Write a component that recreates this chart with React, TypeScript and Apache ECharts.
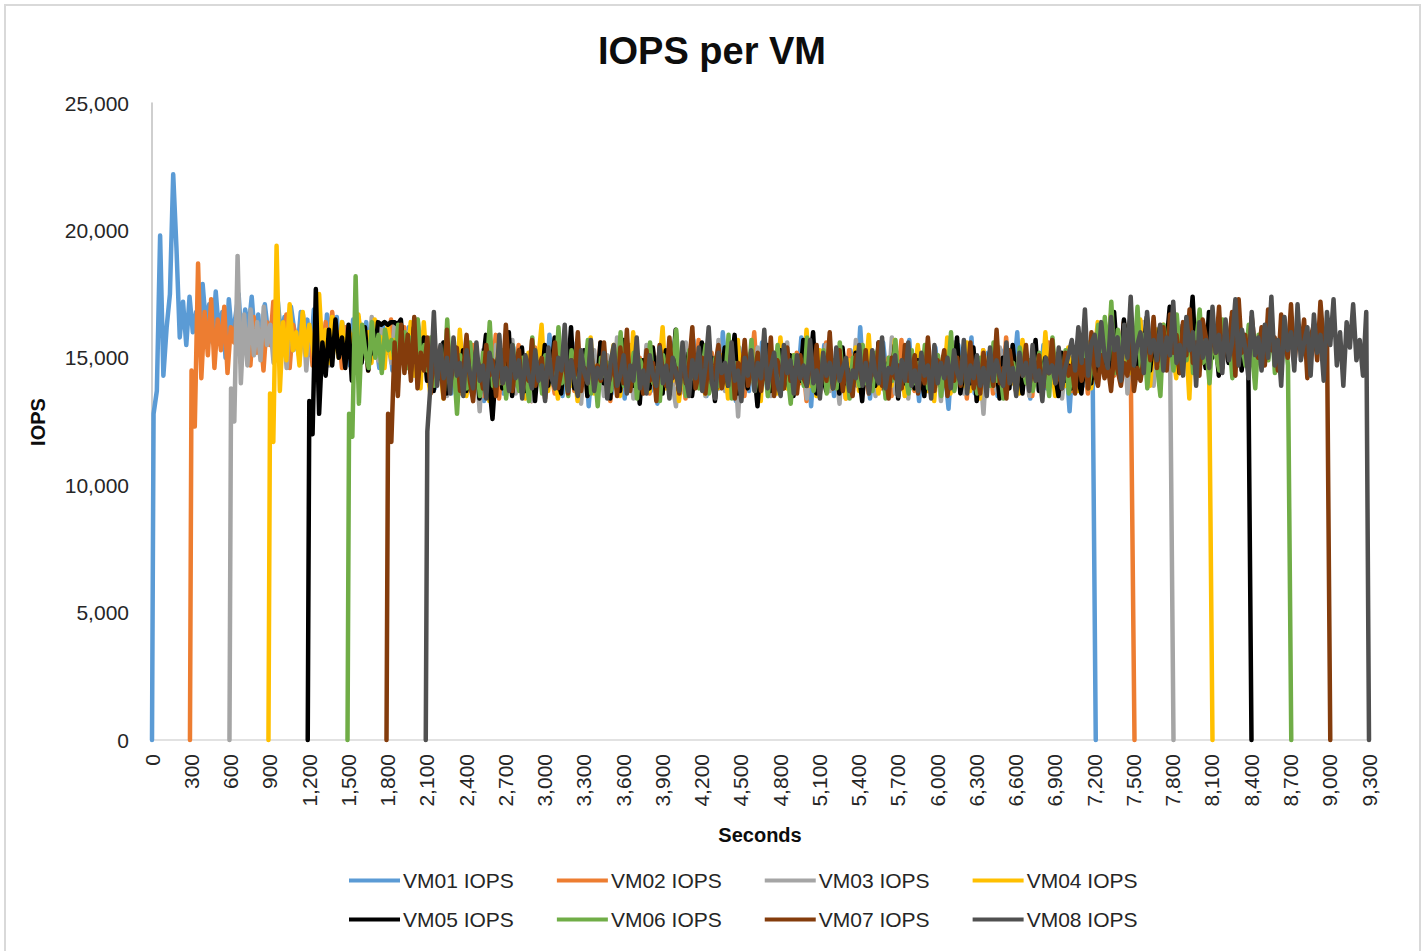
import React, { useEffect, useRef } from "react";
import * as echarts from "echarts";

const SERIES_NAMES = ["VM01 IOPS", "VM02 IOPS", "VM03 IOPS", "VM04 IOPS", "VM05 IOPS", "VM06 IOPS", "VM07 IOPS", "VM08 IOPS"];
const COLORS = ["#5B9BD5", "#ED7D31", "#A5A5A5", "#FFC000", "#000000", "#70AD47", "#843C0C", "#505050"];

// seconds at which each VM starts / stops (IOPS = 0)
const START = [0, 290, 592, 890, 1190, 1494, 1792, 2092];
const END = [7212, 7508, 7806, 8104, 8402, 8706, 9004, 9300];
// samples every STEP seconds, first sample OFFSET seconds after start
const STEP = 25;
const OFFSET = 12;
// sample values below are in hundreds of IOPS
const UNIT = 100;

const X_MAX = 9300;
const X_INTERVAL = 300;
const Y_MAX = 25000;
const Y_INTERVAL = 5000;

const VM01 = [
  128,137,198,143,162,175,222,193,158,172,155,174,160,168,152,179,
  163,171,156,176,160,168,150,173,158,166,175,154,169,161,174,157,
  167,152,171,160,164,149,172,158,166,155,170,161,153,168,159,165,
  151,169,157,163,148,167,160,154,166,150,162,158,147,165,155,161,
  152,164,149,160,156,146,163,153,159,145,161,150,157,148,162,154,
  158,147,155,150,143,151,138,147,155,140,149,136,152,144,139,150,
  146,137,153,142,148,133,150,145,140,157,143,136,149,141,154,138,
  145,151,139,147,134,153,142,146,137,159,144,140,150,135,148,143,
  156,138,145,141,152,131,147,144,139,155,142,148,136,151,140,146,
  134,149,143,158,138,145,141,153,137,147,132,150,144,139,154,142,
  148,136,151,140,145,157,139,146,143,135,152,141,149,138,160,144,
  140,147,133,154,142,146,137,151,145,139,156,143,135,149,141,153,
  138,145,150,136,148,142,158,140,146,131,152,144,139,155,143,147,
  135,151,141,148,137,153,145,139,162,142,147,134,150,143,138,156,
  144,140,149,136,152,145,141,157,138,146,133,151,142,148,140,154,
  139,147,143,130,150,141,155,137,146,142,158,136,148,144,139,152,
  141,148,135,153,143,139,150,145,160,137,147,142,134,151,146,140,
  155,138,149,144,136,152,143,147,129,150,141,146,157,139,148,152,
];
const VM02 = [
  145,123,187,142,168,151,173,146,165,153,170,144,162,156,169,148,
  163,159,147,166,152,161,145,164,155,172,149,160,154,167,146,163,
  158,150,167,153,162,147,165,156,151,164,149,168,155,160,146,162,
  153,159,148,166,154,157,145,163,151,160,147,158,152,165,149,156,
  150,162,146,157,153,148,160,151,155,144,158,149,142,151,137,149,
  143,153,136,150,144,138,155,141,147,135,152,140,146,159,134,148,
  142,151,139,145,155,137,149,143,133,154,141,147,138,150,144,136,
  153,142,148,140,158,137,146,142,151,135,149,144,139,156,141,147,
  133,152,143,140,149,137,155,145,138,150,142,147,136,154,141,146,
  139,151,144,137,153,142,148,134,150,145,140,157,138,146,143,152,
  136,149,141,147,138,155,143,139,151,135,148,144,160,140,146,142,
  150,137,145,141,154,139,148,143,136,152,140,147,133,151,144,138,
  149,142,156,137,146,140,151,145,134,153,141,148,139,155,143,136,
  147,141,152,138,145,150,135,148,142,157,139,146,143,137,154,140,
  148,143,136,151,141,146,139,155,144,137,150,142,147,134,152,140,
  145,138,153,142,148,136,150,143,139,158,141,146,137,152,144,140,
  149,135,151,142,146,139,156,143,138,150,145,141,153,137,148,144,
  140,147,136,152,149,161,145,157,150,166,143,159,153,164,147,158,
];
const VM03 = [
  138,125,190,140,167,147,169,151,164,149,170,155,163,148,168,154,
  161,146,166,153,158,150,167,145,162,156,149,165,152,160,147,163,
  157,151,164,148,159,153,145,162,150,158,147,166,154,149,161,152,
  156,148,163,151,157,146,160,153,149,165,155,150,141,154,137,148,
  143,156,135,149,142,138,152,144,136,150,141,147,129,153,140,146,
  134,155,143,139,148,142,157,136,145,138,151,144,133,149,141,154,
  137,146,140,152,136,148,143,139,156,142,147,132,150,144,138,153,
  141,147,135,151,143,139,158,137,146,142,152,134,149,145,140,155,
  138,144,150,136,148,141,153,139,131,147,143,156,137,145,149,140,
  152,135,146,142,139,157,144,137,150,141,148,127,151,143,138,146,
  140,154,137,149,144,135,152,142,147,139,156,136,145,150,141,148,
  134,151,143,138,147,141,155,137,149,144,132,152,140,146,139,157,
  143,137,150,142,147,135,153,140,145,139,158,136,148,141,146,134,
  151,140,144,149,137,155,142,138,147,133,150,143,139,156,141,146,
  136,148,142,153,139,145,128,150,141,147,137,154,143,139,149,144,
  138,152,140,146,135,151,143,148,137,157,141,145,139,150,134,147,
  142,149,137,155,144,140,152,146,154,162,147,158,143,165,151,157,
  148,163,136,156,160,150,145,164,152,158,139,161,149,155,146,157,
];
const VM04 = [
  136,117,194,137,164,149,171,153,160,147,168,151,163,155,146,175,
  152,161,148,166,157,150,164,149,162,154,145,167,156,151,160,148,
  165,153,158,146,163,150,157,144,161,152,148,164,143,155,138,164,
  145,136,152,141,148,134,156,142,147,137,161,144,135,149,142,150,
  138,146,154,133,145,141,157,139,148,143,136,151,140,147,134,152,
  144,138,149,163,141,137,150,143,134,148,142,155,139,146,133,151,
  144,140,158,136,147,141,153,138,146,155,142,135,149,143,139,160,
  142,135,149,144,137,152,140,146,162,138,147,141,154,133,145,150,
  139,153,141,148,143,136,156,140,145,138,151,147,134,150,142,157,
  137,146,141,152,139,148,133,155,144,140,149,136,158,143,138,147,
  151,137,145,142,161,139,147,135,153,144,140,156,138,146,143,150,
  134,149,141,154,137,146,143,159,139,148,136,152,142,145,139,157,
  140,147,135,152,143,138,155,141,149,137,146,133,151,144,140,158,
  136,145,142,150,139,156,137,148,144,134,153,141,147,139,155,143,
  146,138,151,140,145,136,157,142,148,137,152,144,139,160,141,147,
  135,150,143,139,154,141,148,137,146,142,156,138,150,164,147,157,
  151,167,145,159,153,148,162,144,156,150,165,147,158,139,154,161,
  149,163,146,155,152,142,160,148,157,134,162,151,145,158,150,153,
];
const VM05 = [
  133,120,177,128,156,143,161,147,165,150,158,146,163,141,160,152,
  148,162,145,157,151,164,163,164,163,164,164,163,165,149,159,144,
  162,151,146,158,141,155,137,149,142,156,136,148,145,150,139,153,
  137,148,141,153,134,147,159,140,126,145,152,138,146,160,135,149,
  142,154,137,144,151,133,148,140,155,139,146,158,141,136,150,143,
  162,138,147,142,153,135,149,144,139,156,140,148,134,152,145,137,
  157,141,146,139,150,132,149,143,138,154,142,147,136,153,140,145,
  161,137,148,142,152,135,146,141,156,138,144,150,133,147,143,154,
  139,146,159,136,143,149,138,152,145,131,148,142,155,137,146,140,
  153,138,144,151,135,147,141,157,139,146,160,136,148,143,137,150,
  143,149,136,154,140,145,138,152,144,133,150,141,147,139,156,142,
  137,148,142,155,134,146,140,153,145,138,149,143,135,152,141,147,
  146,139,151,137,147,142,158,136,144,150,140,154,133,148,143,139,
  152,141,147,134,150,143,138,155,142,146,136,151,144,140,157,137,
  145,150,139,148,143,135,152,141,147,138,154,142,136,149,144,140,
  151,144,163,148,157,142,168,150,146,165,153,149,160,144,158,151,
  166,145,157,152,162,147,155,170,150,159,144,163,152,157,174,149,
  161,153,146,168,150,158,143,162,155,148,166,151,159,145,156,152,
];
const VM06 = [
  128,119,182,132,163,152,146,164,150,159,144,161,153,157,148,163,
  151,160,146,158,150,165,147,155,145,158,139,147,153,137,165,142,
  148,128,151,144,138,156,141,149,135,152,143,164,139,146,140,153,
  134,147,155,142,137,150,144,133,158,141,148,136,151,143,149,138,
  162,140,145,135,153,142,139,148,144,157,136,146,131,150,143,148,
  137,154,141,160,139,147,142,152,134,149,145,138,156,140,146,133,
  151,143,137,148,161,141,145,135,153,142,149,138,146,155,136,143,
  150,139,147,142,159,134,148,144,138,152,141,157,137,146,143,150,
  135,149,141,155,138,147,144,132,151,140,146,139,158,143,137,148,
  142,153,136,145,149,138,156,141,147,134,150,144,139,155,140,146,
  137,152,143,148,134,150,141,157,139,146,144,136,153,140,148,142,
  155,138,146,141,151,135,149,143,160,137,145,140,152,139,147,144,
  136,150,142,147,139,156,141,145,134,151,143,148,138,154,146,140,
  149,137,144,152,140,146,135,158,142,147,139,153,136,145,141,150,
  143,156,138,147,151,163,145,166,149,172,144,161,153,158,148,164,
  150,170,146,159,138,155,162,147,135,163,152,158,145,167,151,156,
  149,162,144,157,169,148,154,140,160,151,145,165,153,158,142,161,
  150,155,147,163,152,138,159,146,157,149,164,144,155,151,160,147,
];
const VM07 = [
  128,117,156,135,163,144,159,141,166,138,152,145,158,136,153,142,
  148,134,161,140,147,154,137,145,159,141,133,150,146,138,155,143,
  149,135,152,140,163,144,137,148,153,136,145,141,157,139,146,150,
  134,147,142,156,138,145,151,136,149,143,160,137,146,140,154,139,
  147,141,156,138,143,149,135,154,140,161,137,146,150,143,136,153,
  141,148,133,155,144,139,158,142,146,136,151,140,147,162,138,144,
  150,136,149,140,147,155,138,144,141,153,134,148,142,157,139,146,
  143,152,137,147,140,158,135,149,144,138,154,141,146,136,151,142,
  139,147,143,155,136,149,141,160,138,145,153,137,148,142,135,151,
  146,140,153,137,148,143,156,139,145,134,150,142,147,138,155,141,
  144,151,136,147,140,158,142,137,149,145,153,135,146,141,150,139,
  148,142,156,138,145,136,152,143,147,139,161,140,146,134,153,144,
  137,149,143,155,139,146,141,151,136,148,144,157,140,145,138,152,
  143,147,136,154,141,149,138,160,144,139,151,142,147,137,153,145,
  139,148,143,156,137,146,141,150,160,149,166,146,157,162,145,167,
  152,159,144,164,151,169,148,156,143,165,158,149,163,152,170,146,
  161,155,168,143,173,152,159,148,166,154,150,162,147,169,153,158,
  145,167,156,150,171,148,160,153,165,142,158,163,149,172,155,160,
];
const VM08 = [
  121,140,168,139,155,142,150,136,158,143,148,135,153,144,138,156,
  141,147,134,152,145,139,159,140,146,137,155,142,149,134,151,143,
  138,153,141,147,133,154,142,138,150,145,163,137,149,141,135,153,
  144,140,157,137,146,142,152,134,148,155,139,143,151,136,147,141,
  158,138,145,136,151,143,139,154,140,147,134,150,144,137,156,142,
  135,149,142,154,137,146,162,140,134,152,144,148,139,156,141,145,
  133,150,143,153,137,148,142,161,138,146,152,140,135,155,144,149,
  136,151,142,147,139,157,140,145,134,152,143,148,138,154,141,146,
  150,137,145,142,155,139,148,136,153,143,140,158,138,146,144,151,
  135,149,141,156,139,145,137,152,143,147,134,155,140,148,142,150,
  138,153,144,140,157,136,147,142,151,139,146,135,154,141,149,143,
  139,156,140,146,135,152,143,148,137,155,141,145,133,150,144,147,
  140,154,138,146,151,157,145,162,148,169,143,156,159,147,164,151,
  146,166,153,158,141,163,150,174,147,155,160,144,168,152,157,149,
  163,145,158,151,172,148,155,143,166,153,160,139,164,150,157,146,
  170,152,159,144,165,149,156,173,147,161,154,142,168,151,158,145,
  163,150,174,147,157,139,166,153,160,145,171,149,156,162,143,167,
  152,159,141,168,155,173,147,160,139,164,154,171,149,157,143,168,
];
const VALUES = [VM01, VM02, VM03, VM04, VM05, VM06, VM07, VM08];

const FONT = "'Liberation Sans', Arial, sans-serif";
const fmt = (v: number) => v.toLocaleString("en-US");

function buildPoints(k: number): number[][] {
  const pts: number[][] = [[START[k], 0]];
  VALUES[k].forEach((v, i) => {
    const t = START[k] + OFFSET + STEP * i;
    if (t < END[k]) pts.push([t, v * UNIT]);
  });
  pts.push([END[k], 0]);
  return pts;
}

export default function App() {
  const ref = useRef<HTMLDivElement>(null);
  useEffect(() => {
    if (!ref.current) return;
    const chart = echarts.init(ref.current, undefined, { renderer: "svg" });
    const legendItem = (names: string[], top: number) => ({
      data: names,
      left: 349,
      top,
      padding: 0,
      orient: "horizontal",
      icon: "rect",
      itemWidth: 51,
      itemHeight: 4,
      itemGap: 43,
      selectedMode: false,
      textStyle: { fontFamily: FONT, fontSize: 21, color: "#262626", padding: [0, 0, 0, -2] },
    });
    chart.setOption({
      animation: false,
      backgroundColor: "#ffffff",
      title: {
        text: "IOPS per VM",
        left: "center",
        top: 27,
        textStyle: { fontFamily: FONT, fontSize: 38, fontWeight: "bold", color: "#0d0d0d" },
      },
      legend: [legendItem(SERIES_NAMES.slice(0, 4), 870), legendItem(SERIES_NAMES.slice(4), 909)],
      grid: { left: 152, right: 55, top: 103, bottom: 211, containLabel: false },
      xAxis: {
        type: "value",
        min: 0,
        max: X_MAX,
        interval: X_INTERVAL,
        axisLine: { show: true, lineStyle: { color: "#D9D9D9", width: 1.5 } },
        axisTick: { show: false },
        splitLine: { show: false },
        axisLabel: {
          rotate: 90,
          margin: 14,
          fontFamily: FONT,
          fontSize: 21,
          color: "#262626",
          showMinLabel: true,
          showMaxLabel: true,
          formatter: (v: number) => fmt(v),
        },
      },
      yAxis: {
        type: "value",
        min: 0,
        max: Y_MAX,
        interval: Y_INTERVAL,
        axisLine: { show: true, lineStyle: { color: "#BFBFBF", width: 1.5 } },
        axisTick: { show: false },
        splitLine: { show: false },
        axisLabel: {
          margin: 23,
          fontFamily: FONT,
          fontSize: 21,
          color: "#262626",
          formatter: (v: number) => fmt(v),
        },
      },
      graphic: [
        {
          type: "rect",
          shape: { x: 5, y: 5, width: 1415, height: 990 },
          style: { fill: "none", stroke: "#D9D9D9", lineWidth: 2 },
          silent: true,
        },
        {
          type: "text",
          x: 38,
          y: 422,
          rotation: Math.PI / 2,
          style: {
            text: "IOPS",
            fontFamily: FONT,
            fontSize: 20,
            fontWeight: "bold",
            fill: "#0d0d0d",
            textAlign: "center",
            textVerticalAlign: "middle",
          },
        },
        {
          type: "text",
          x: 760,
          y: 835,
          style: {
            text: "Seconds",
            fontFamily: FONT,
            fontSize: 20,
            fontWeight: "bold",
            fill: "#0d0d0d",
            textAlign: "center",
            textVerticalAlign: "middle",
          },
        },
      ],
      series: SERIES_NAMES.map((name, k) => ({
        name,
        type: "line",
        data: buildPoints(k),
        showSymbol: false,
        symbol: "none",
        clip: false,
        color: COLORS[k],
        itemStyle: { color: COLORS[k] },
        lineStyle: { color: COLORS[k], width: 4.5, cap: "round", join: "round" },
      })),
    });
    return () => chart.dispose();
  }, []);
  return (
    <div
      ref={ref}
      style={{ position: "absolute", left: 0, top: 0, width: 1424, height: 951 }}
    />
  );
}
